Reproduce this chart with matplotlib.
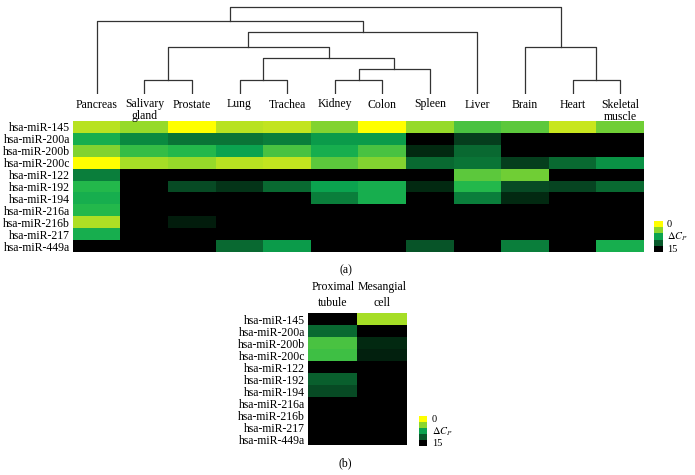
import numpy as np
import matplotlib
matplotlib.use('Agg')
from matplotlib import pyplot as plt
from matplotlib.colors import LinearSegmentedColormap

plt.rcParams['font.family'] = ['Liberation Serif', 'DejaVu Serif']
plt.rcParams['mathtext.fontset'] = 'stix'

W, H = 695, 475

tissues = ['Pancreas', 'Salivary\ngland', 'Prostate', 'Lung', 'Trachea', 'Kidney',
           'Colon', 'Spleen', 'Liver', 'Brain', 'Heart', 'Skeletal\nmuscle']
mirnas = ['hsa-miR-145', 'hsa-miR-200a', 'hsa-miR-200b', 'hsa-miR-200c', 'hsa-miR-122',
          'hsa-miR-192', 'hsa-miR-194', 'hsa-miR-216a', 'hsa-miR-216b', 'hsa-miR-217',
          'hsa-miR-449a']
cells = ['Proximal\ntubule', 'Mesangial\ncell']

# delta Cp per tissue (rows = miRNAs, cols = tissues), 15 = not detected
dcp_tissue = [
    [2.5, 3.5, 0.0, 2.5, 2.2, 4.0, 0.0, 3.5, 5.5, 5.0, 2.0, 4.5],
    [7.0, 9.0, 10.0, 10.0, 9.5, 8.0, 8.0, 15, 12.5, 15, 15, 15],
    [4.0, 6.0, 6.5, 7.5, 5.5, 7.0, 5.5, 13.5, 10.5, 15, 15, 15],
    [0.0, 3.0, 3.5, 2.5, 2.2, 5.0, 4.0, 10.5, 10.0, 12.5, 10.5, 8.5],
    [9.5, 15, 15, 15, 15, 15, 15, 15, 5.0, 4.5, 15, 15],
    [6.5, 15, 12.0, 13.0, 10.5, 7.5, 7.0, 13.5, 6.5, 12.0, 12.2, 10.5],
    [7.0, 15, 15, 15, 15, 9.5, 7.0, 15, 9.5, 13.5, 15, 15],
    [6.5, 15, 15, 15, 15, 15, 15, 15, 15, 15, 15, 15],
    [2.8, 15, 14.0, 15, 15, 15, 15, 15, 15, 15, 15, 15],
    [7.0, 15, 15, 15, 15, 15, 15, 15, 15, 15, 15, 15],
    [15, 15, 15, 10.5, 8.0, 15, 15, 11.5, 15, 9.5, 15, 7.0],
]
dcp_cell = [
    [15, 3.0],
    [10.5, 15],
    [5.5, 13.5],
    [5.8, 13.8],
    [15, 15],
    [11.0, 15],
    [12.0, 15],
    [15, 15],
    [15, 15],
    [15, 15],
    [15, 15],
]

# dendrogram merges: (node a, node b, height); new nodes numbered from 12
merges = [(1, 2, 14), (3, 4, 14), (5, 6, 14), (10, 11, 14), (14, 7, 25), (13, 16, 36),
          (12, 17, 47), (9, 15, 47), (18, 8, 62), (0, 20, 73), (21, 19, 87)]

legend_vals = [0, 3.75, 7.5, 11.25, 15]

stops = [0, 2, 3.5, 5, 6.5, 7.5, 9, 10.5, 12, 13.5, 15]
stop_colors = ['#ffff00', '#c8e61e', '#96da2a', '#5cc83c', '#22b84c', '#0ca450',
               '#0a8a40', '#0a6a32', '#074a24', '#032a12', '#000000']
cmap = LinearSegmentedColormap.from_list('dcp', list(zip(np.array(stops) / 15.0, stop_colors)))


def px(x, y, w, h):
    return [x / W, 1 - (y + h) / H, w / W, h / H]


def legend(x, y, w, h, tx):
    axl = fig.add_axes(px(x, y, w, h))
    axl.imshow(np.array(legend_vals).reshape(-1, 1), cmap=cmap, vmin=0, vmax=15, aspect='auto')
    axl.axis('off')
    fig.text(tx / W, 1 - (y + 3) / H, '0', fontsize=7.5, va='center')
    fig.text(tx / W, 1 - (y + h / 2 + 0.5) / H, r'$\Delta C_P$', fontsize=7.5, va='center')
    fig.text(tx / W, 1 - (y + h - 2) / H, '15', fontsize=7.5, va='center')


fig = plt.figure(figsize=(W / 100, H / 100), dpi=100)

# ---- (a) tissues ----
ax = fig.add_axes(px(73, 121, 571, 131))
ax.imshow(np.array(dcp_tissue), cmap=cmap, vmin=0, vmax=15, aspect='auto', interpolation='nearest')
ax.set_xticks([])
ax.set_yticks(range(len(mirnas)))
ax.set_yticklabels(mirnas, fontsize=8.5)
ax.tick_params(axis='y', length=0, pad=2)
for s in ax.spines.values():
    s.set_visible(False)

# dendrogram
axd = fig.add_axes(px(73, 4, 571, 90))
pos = {i: float(i) for i in range(len(tissues))}
hgt = {i: 0.0 for i in range(len(tissues))}
for k, (a, b, h) in enumerate(merges):
    node = len(tissues) + k
    axd.plot([pos[a], pos[a], pos[b], pos[b]], [hgt[a], h, h, hgt[b]], color='#333333', lw=0.9)
    pos[node] = (pos[a] + pos[b]) / 2
    hgt[node] = h
axd.set_xlim(-0.5, len(tissues) - 0.5)
axd.set_ylim(0, 90)
axd.axis('off')
for i, t in enumerate(tissues):
    axd.text(i, -0.05, t, transform=axd.get_xaxis_transform(), ha='center', va='top',
             fontsize=8.5, linespacing=1.0)

legend(654, 221, 9, 31, 667)

fig.text(346 / W, 1 - 270 / H, '(a)', fontsize=8.5, ha='center', va='center')

# ---- (b) kidney cells ----
axb = fig.add_axes(px(308, 313, 99, 132))
axb.imshow(np.array(dcp_cell), cmap=cmap, vmin=0, vmax=15, aspect='auto', interpolation='nearest')
axb.set_xticks([])
axb.set_yticks(range(len(mirnas)))
axb.set_yticklabels(mirnas, fontsize=8.5)
axb.tick_params(axis='y', length=0, pad=2)
for s in axb.spines.values():
    s.set_visible(False)
for i, c in enumerate(cells):
    axb.text(i, 1.03, c, transform=axb.get_xaxis_transform(), ha='center', va='bottom',
             fontsize=8.5, linespacing=1.4)

legend(419, 416, 8, 30, 432)

fig.text(345 / W, 1 - 463 / H, '(b)', fontsize=8.5, ha='center', va='center')

fig.savefig('out.png', dpi=100)
